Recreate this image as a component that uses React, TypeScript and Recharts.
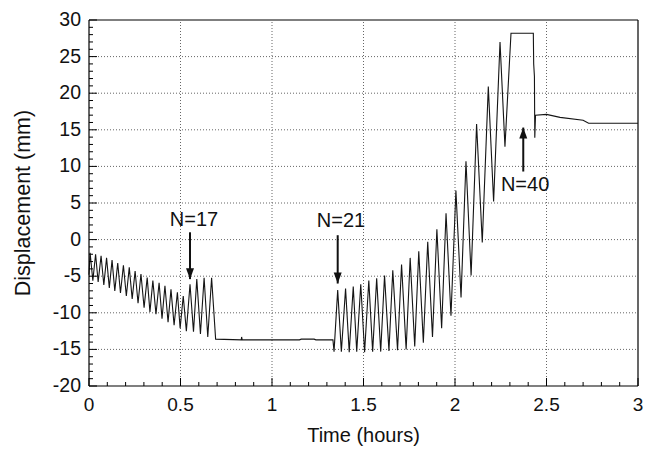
import React from "react";
import {
  LineChart,
  Line,
  XAxis,
  YAxis,
  ReferenceLine,
  ReferenceDot,
} from "recharts";

// time (hours) and displacement (mm)
const timeHours = [
  0, 0.006, 0.021, 0.036, 0.05, 0.066, 0.081, 0.096, 0.111, 0.126, 0.141,
  0.157, 0.172, 0.188, 0.204, 0.22, 0.236, 0.252, 0.268, 0.284, 0.301, 0.318,
  0.333, 0.349, 0.366, 0.383, 0.399, 0.415, 0.432, 0.448, 0.465, 0.483, 0.498,
  0.515, 0.532, 0.552, 0.571, 0.589, 0.609, 0.629, 0.649, 0.67, 0.692, 0.832,
  0.834, 0.837, 1.15, 1.16, 1.23, 1.24, 1.333,
  1.339, 1.359, 1.379, 1.402, 1.422, 1.444, 1.463, 1.485, 1.506, 1.529, 1.55,
  1.572, 1.594, 1.615, 1.639, 1.66, 1.686, 1.708, 1.733, 1.755, 1.78, 1.802,
  1.827, 1.851, 1.877, 1.901, 1.927, 1.951, 1.978, 2.005, 2.033, 2.06, 2.088,
  2.118, 2.149, 2.182, 2.211, 2.246, 2.273, 2.306, 2.428, 2.43, 2.434, 2.436,
  2.44, 2.5, 2.574, 2.7, 2.73, 3.0,
];
const displacementMm = [
  -4.8, -1.8, -5.6, -2.0, -5.8, -2.2, -6.2, -2.5, -6.6, -2.8, -7.0, -3.2, -7.3,
  -3.5, -7.7, -3.8, -8.1, -4.3, -8.7, -4.7, -9.3, -5.2, -9.9, -5.6, -10.2,
  -5.9, -10.8, -6.3, -11.3, -6.8, -11.7, -7.2, -12.1, -7.7, -12.5, -6.1,
  -12.6, -5.4, -12.9, -5.2, -13.3, -5.2, -13.6, -13.7, -13.3, -13.7, -13.7,
  -13.6, -13.6, -13.7, -13.7,
  -15.3, -6.9, -15.3, -6.7, -15.4, -6.4, -15.3, -6.1, -15.4, -5.6, -15.3,
  -5.3, -15.3, -4.9, -15.2, -4.2, -15.1, -3.4, -15.0, -2.5, -14.6, -1.6,
  -14.1, -0.3, -13.3, 1.4, -12.1, 3.6, -10.4, 6.7, -7.9, 10.7, -4.9, 15.8,
  -0.4, 20.9, 5.2, 27.0, 12.7, 28.2, 28.2, 24.0, 22.3, 13.9, 17.0, 17.1,
  16.7, 16.3, 15.9, 15.9,
];

const xMajorTicks = [0, 0.5, 1, 1.5, 2, 2.5, 3];
const yMajorTicks = [-20, -15, -10, -5, 0, 5, 10, 15, 20, 25, 30];

const cycleLabels = ["N=17", "N=21", "N=40"];
const labelTime = [0.574, 1.377, 2.383];
const labelDisp = [1.8, 1.7, 6.6];
const arrowTime = [0.552, 1.359, 2.373];
const arrowFrom = [1.0, 0.6, 9.3];
const arrowTo = [-5.4, -6.0, 15.3];

const data = timeHours.map((t, i) => ({ t, v: displacementMm[i] }));

const xTicks = xMajorTicks
  .flatMap((m) => [0, 1, 2, 3, 4].map((k) => Math.round((m + k * 0.1) * 10) / 10))
  .filter((v) => v <= 3);
const yTicks = yMajorTicks
  .flatMap((m) => [0, 1, 2, 3, 4].map((k) => m + k))
  .filter((v) => v <= 30);

const FONT = "'Liberation Sans', Arial, Helvetica, sans-serif";
const isMajor = (v: number, step: number) =>
  Math.abs(v / step - Math.round(v / step)) < 1e-6;

const XTick = (p: any) => {
  const v = p.payload.value;
  const major = isMajor(v, 0.5);
  return (
    <g>
      <line x1={p.x} x2={p.x} y1={p.y} y2={p.y - (major ? 8 : 4)} stroke="#000" strokeWidth={1} />
      {major && (
        <text x={p.x} y={p.y + 25} textAnchor="middle" fontSize={19} fontFamily={FONT} fill="#111">
          {String(v)}
        </text>
      )}
    </g>
  );
};

const YTick = (p: any) => {
  const v = p.payload.value;
  const major = isMajor(v, 5);
  return (
    <g>
      <line x1={p.x} x2={p.x + (major ? 8 : 4)} y1={p.y} y2={p.y} stroke="#000" strokeWidth={1} />
      {major && (
        <text x={p.x - 8} y={p.y + 6} textAnchor="end" fontSize={19.5} fontFamily={FONT} fill="#111">
          {String(v)}
        </text>
      )}
    </g>
  );
};

const grid = { stroke: "#666", strokeDasharray: "1 2", strokeWidth: 1 };

export default function App() {
  return (
    <div style={{ position: "absolute", left: 0, top: 0, width: 657, height: 450, background: "#fff" }}>
      <LineChart
        width={657}
        height={450}
        data={data}
        margin={{ top: 20, right: 19, bottom: 0, left: 0 }}
      >
        <XAxis
          dataKey="t"
          type="number"
          domain={[0, 3]}
          ticks={xTicks}
          interval={0}
          height={64}
          tickSize={0}
          tickMargin={0}
          tickLine={false}
          axisLine={{ stroke: "#000", strokeWidth: 1.2 }}
          tick={<XTick />}
          label={{
            value: "Time (hours)",
            position: "insideBottom",
            offset: 8,
            fontSize: 20,
            fontFamily: FONT,
            fill: "#111",
          }}
        />
        <YAxis
          type="number"
          domain={[-20, 30]}
          ticks={yTicks}
          interval={0}
          width={89}
          tickSize={0}
          tickMargin={0}
          tickLine={false}
          axisLine={{ stroke: "#000", strokeWidth: 1.2 }}
          tick={<YTick />}
          label={{
            value: "Displacement (mm)",
            angle: -90,
            position: "insideLeft",
            offset: 22,
            style: { textAnchor: "middle" },
            fontSize: 21.5,
            fontFamily: FONT,
            fill: "#111",
          }}
        />
        {xMajorTicks.slice(1, -1).map((x) => (
          <ReferenceLine key={"gx" + x} x={x} {...grid} />
        ))}
        {yMajorTicks.slice(1, -1).map((y) => (
          <ReferenceLine key={"gy" + y} y={y} {...grid} />
        ))}
        <ReferenceLine x={3} stroke="#000" strokeWidth={1.2} />
        <ReferenceLine y={30} stroke="#000" strokeWidth={1.2} />
        <Line
          dataKey="v"
          type="linear"
          stroke="#151515"
          strokeWidth={1.1}
          dot={false}
          isAnimationActive={false}
        />
        {cycleLabels.map((lab, i) => (
          <ReferenceLine
            key={"a" + i}
            segment={[
              { x: arrowTime[i], y: arrowFrom[i] },
              { x: arrowTime[i], y: arrowTo[i] },
            ]}
            stroke="#111"
            strokeWidth={2}
          />
        ))}
        {cycleLabels.map((lab, i) => (
          <ReferenceDot
            key={"h" + i}
            x={arrowTime[i]}
            y={arrowTo[i]}
            r={0}
            shape={(p: any) => {
              const d = arrowTo[i] < arrowFrom[i] ? 1 : -1;
              return (
                <polygon
                  points={`${p.cx},${p.cy} ${p.cx - 4},${p.cy - d * 11} ${p.cx + 4},${p.cy - d * 11}`}
                  fill="#111"
                />
              );
            }}
          />
        ))}
        {cycleLabels.map((lab, i) => (
          <ReferenceDot
            key={"l" + i}
            x={labelTime[i]}
            y={labelDisp[i]}
            r={0}
            shape={(p: any) => (
              <text x={p.cx} y={p.cy} textAnchor="middle" fontSize={20} fontFamily={FONT} fill="#111">
                {lab}
              </text>
            )}
          />
        ))}
      </LineChart>
    </div>
  );
}
